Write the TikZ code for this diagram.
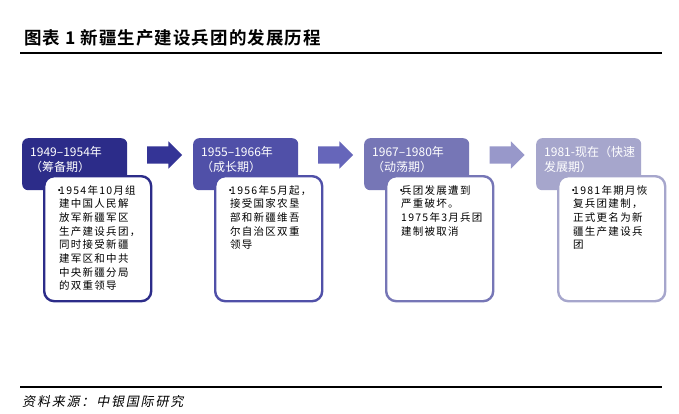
\documentclass[tikz,border=0pt]{standalone}
\usepackage{fontspec}
\newfontfamily\cjk{Noto Sans CJK SC}
\newfontfamily\cjkbody[LetterSpace=12]{Noto Sans CJK SC}
\newfontfamily\cjktitle[LetterSpace=6]{Noto Sans CJK SC Bold}
\newfontfamily\cjksrc[FakeSlant=0.2,LetterSpace=14]{Noto Sans CJK SC}
\usetikzlibrary{shapes.arrows,calc}

\definecolor{stageA}{RGB}{44,44,137}
\definecolor{stageB}{RGB}{80,80,168}
\definecolor{stageC}{RGB}{118,118,182}
\definecolor{stageD}{RGB}{166,166,204}
\definecolor{arrowA}{RGB}{52,52,150}
\definecolor{arrowB}{RGB}{102,102,186}
\definecolor{arrowC}{RGB}{152,152,202}

\newcommand\blt{\makebox[5pt][l]{•}}
\newcommand\ind{\hspace*{5pt}}

\tikzset{
    headbox/.style={fill=#1, rounded corners=6pt, minimum width=105pt, minimum height=52pt, inner sep=0pt, anchor=north west},
    headtext/.style={text=white, font=\cjk\fontsize{12}{15}\selectfont, align=left, anchor=north west, inner sep=0pt},
    bodybox/.style={draw=#1, line width=2.4pt, fill=white, rounded corners=10pt, minimum width=107pt, minimum height=125pt, anchor=north west, inner sep=0pt},
    bodytext/.style={font=\cjkbody\fontsize{10.5}{13.7}\selectfont, align=left, anchor=north west, inner sep=0pt},
    stagearrow/.style={single arrow, fill=#1, minimum height=35pt, text height=17pt, text depth=0pt, text width=0pt, single arrow head extend=5pt, single arrow head indent=0pt, inner sep=0pt}
}

\begin{document}
\begin{tikzpicture}[x=1pt, y=-1pt]
    \useasboundingbox[fill=white] (0,0) rectangle (679,414);

    % title and rules
    \node[anchor=west, inner sep=0pt, font=\cjktitle\fontsize{17.5}{19}\selectfont] (title) at (24,38) {图表 1 新疆生产建设兵团的发展历程};
    \draw[line width=1.4pt] (20,53) -- (662,53);
    \draw[line width=1.2pt] (20,387) -- (662,387);
    \node[anchor=west, inner sep=0pt, font=\cjksrc\fontsize{13}{15}\selectfont] (source) at (22,402) {资料来源：中银国际研究};

    % stage headers
    \node[headbox=stageA] (h1) at (22,138) {};
    \node[headbox=stageB] (h2) at (193,138) {};
    \node[headbox=stageC] (h3) at (364,138) {};
    \node[headbox=stageD] (h4) at (536,138) {};

    \node[headtext] (ht1) at ([xshift=8pt,yshift=-8pt]h1.north west) {1949–1954年\\（筹备期）};
    \node[headtext] (ht2) at ([xshift=8pt,yshift=-8pt]h2.north west) {1955–1966年\\（成长期）};
    \node[headtext] (ht3) at ([xshift=8pt,yshift=-8pt]h3.north west) {1967–1980年\\（动荡期）};
    \node[headtext] (ht4) at ([xshift=8pt,yshift=-8pt]h4.north west) {1981-现在（快速\\发展期）};

    % arrows between stages
    \foreach \a/\b/\c in {1/2/arrowA, 2/3/arrowB, 3/4/arrowC}
        \node[stagearrow=\c] (arr\a) at ($(h\a.north east)!0.5!(h\b.north west)$) [yshift=-17pt] {};

    % detail boxes
    \node[bodybox=stageA] (b1) at ([xshift=21pt,yshift=-37pt]h1.north west) {};
    \node[bodybox=stageB] (b2) at ([xshift=21pt,yshift=-37pt]h2.north west) {};
    \node[bodybox=stageC] (b3) at ([xshift=21pt,yshift=-37pt]h3.north west) {};
    \node[bodybox=stageD] (b4) at ([xshift=21pt,yshift=-37pt]h4.north west) {};

    \node[bodytext] (bt1) at ([xshift=11pt,yshift=-10pt]b1.north west) {\blt 1954年10月组\\\ind 建中国人民解\\\ind 放军新疆军区\\\ind 生产建设兵团，\\\ind 同时接受新疆\\\ind 建军区和中共\\\ind 中央新疆分局\\\ind 的双重领导};
    \node[bodytext] (bt2) at ([xshift=11pt,yshift=-10pt]b2.north west) {\blt 1956年5月起，\\\ind 接受国家农垦\\\ind 部和新疆维吾\\\ind 尔自治区双重\\\ind 领导};
    \node[bodytext] (bt3) at ([xshift=11pt,yshift=-10pt]b3.north west) {\blt 兵团发展遭到\\\ind 严重破坏。\\\ind 1975年3月兵团\\\ind 建制被取消};
    \node[bodytext] (bt4) at ([xshift=11pt,yshift=-10pt]b4.north west) {\blt 1981年期月恢\\\ind 复兵团建制，\\\ind 正式更名为新\\\ind 疆生产建设兵\\\ind 团};
\end{tikzpicture}
\end{document}
